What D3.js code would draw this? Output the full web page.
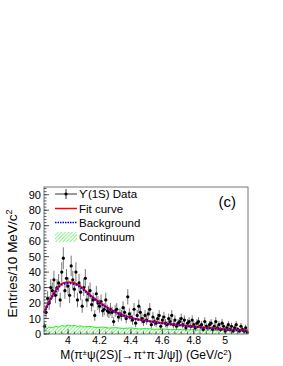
<!DOCTYPE html>
<html>
<head>
<meta charset="utf-8">
<script src="https://cdn.jsdelivr.net/npm/d3@7"></script>
<style>
  body { margin: 0; background: #fff; }
  text { font-family: "Liberation Sans", Arial, sans-serif; }
</style>
</head>
<body>
<div id="chart"></div>
<script>
// bin centres 3.85 .. 5.14 (10 MeV bins), entries per bin
var binStart = 3.85, binWidth = 0.01;
var counts = [
  5, 14, 23, 20, 30, 28, 35, 25, 30, 33,
  22, 40, 49, 28, 36, 31, 25, 44, 35, 29,
  40, 22, 33, 27, 18, 30, 36, 22, 26, 28,
  19, 22, 12, 26, 20, 18, 21, 15, 16, 22,
  15, 14, 16, 14, 8, 15, 16, 11, 13, 12,
  17, 14, 10, 24, 13, 11, 9, 16, 7, 12,
  18, 14, 10, 8, 12, 9, 13, 16, 6, 11,
  8, 7, 10, 12, 5, 9, 11, 7, 6, 10,
  8, 12, 6, 9, 5, 7, 8, 10, 6, 9,
  4, 7, 8, 5, 9, 6, 4, 7, 8, 5,
  6, 3, 8, 5, 4, 6, 7, 3, 5, 8,
  4, 6, 3, 7, 5, 2, 4, 6, 3, 5,
  2, 4, 6, 3, 2, 5, 3, 2, 4, 1
];

var fitX = [3.847, 3.88, 3.92, 3.96, 4.00, 4.04, 4.08, 4.12, 4.16, 4.20, 4.25, 4.30, 4.35, 4.40, 4.45, 4.50, 4.55, 4.60, 4.65, 4.70, 4.75, 4.80, 4.85, 4.90, 4.95, 5.00, 5.05, 5.10, 5.145];
var fitY = [14, 21, 28, 32.5, 33.5, 33, 30.5, 27, 23.5, 20.5, 17, 14.3, 12.2, 10.6, 9.4, 8.5, 7.8, 7.1, 6.5, 5.9, 5.3, 4.8, 4.3, 3.9, 3.5, 3.1, 2.8, 2.5, 2.2];
var bkgY = [13.5, 20.5, 27.3, 31.8, 32.8, 32.3, 30, 26.6, 23.2, 20.2, 16.8, 14.1, 12, 10.4, 9.2, 8.3, 7.6, 6.9, 6.3, 5.7, 5.1, 4.6, 4.1, 3.7, 3.3, 2.9, 2.6, 2.3, 2.0];

var contX = [3.847, 3.86, 3.88, 3.90, 3.92, 3.94, 3.96, 3.98, 4.00, 4.02, 4.04, 4.06, 4.08, 4.10, 4.14, 4.18, 4.22, 4.26, 4.30, 4.35, 4.40, 4.45, 4.50, 4.55, 4.60, 4.65, 4.70, 4.75, 4.80, 4.85, 4.90, 4.95, 5.00, 5.05, 5.10, 5.145];
var contY = [1.5, 3, 4.5, 4, 5, 4.5, 5.5, 5, 5.8, 5.2, 5.6, 4.8, 5.3, 4.6, 4.9, 4.2, 4.5, 3.8, 4.1, 3.6, 3.9, 3.3, 3.5, 3.0, 3.3, 2.8, 3.0, 2.6, 2.8, 2.4, 2.6, 2.2, 2.3, 1.9, 2.0, 1.6];

var xTicks = [4, 4.2, 4.4, 4.6, 4.8, 5];
var yTicks = [0, 10, 20, 30, 40, 50, 60, 70, 80, 90];

var W = 283, H = 366;
var fLeft = 44, fRight = 248, fTop = 187, fBottom = 334;

var svg = d3.select("#chart").append("svg")
    .attr("width", W)
    .attr("height", H);

var x = d3.scaleLinear().domain([3.847, 5.145]).range([fLeft, fRight]);
var y = d3.scaleLinear().domain([0, 95]).range([fBottom, fTop]);

// hatch pattern for continuum
var defs = svg.append("defs");
var pat = defs.append("pattern")
    .attr("id", "hatch")
    .attr("patternUnits", "userSpaceOnUse")
    .attr("width", 2.5).attr("height", 2.5)
    .attr("patternTransform", "rotate(45)");
pat.append("line")
    .attr("x1", 0).attr("y1", 0).attr("x2", 0).attr("y2", 2.5)
    .attr("stroke", "#33ee33").attr("stroke-width", 1.1);

var plot = svg.append("g");

// continuum
var contData = contX.map(function (d, i) { return [d, contY[i]]; });
plot.append("path")
    .datum(contData)
    .attr("fill", "url(#hatch)")
    .attr("d", d3.area().x(function (d) { return x(d[0]); }).y0(y(0)).y1(function (d) { return y(d[1]); }));
plot.append("path")
    .datum(contData)
    .attr("fill", "none")
    .attr("stroke", "#22ee22")
    .attr("stroke-width", 1)
    .attr("d", d3.line().x(function (d) { return x(d[0]); }).y(function (d) { return y(d[1]); }));

// data points with errors
var pts = counts.map(function (c, i) { return { x: binStart + i * binWidth, n: c }; });
var pg = plot.append("g");
pts.forEach(function (p) {
    var e = Math.sqrt(p.n);
    pg.append("line")
        .attr("x1", x(p.x)).attr("x2", x(p.x))
        .attr("y1", y(Math.max(0, p.n - e))).attr("y2", y(p.n + e))
        .attr("stroke", "#555").attr("stroke-width", 0.8);
    pg.append("line")
        .attr("x1", x(p.x - binWidth / 2)).attr("x2", x(p.x + binWidth / 2))
        .attr("y1", y(p.n)).attr("y2", y(p.n))
        .attr("stroke", "#555").attr("stroke-width", 0.8);
});
pg.selectAll("circle")
    .data(pts)
    .enter().append("circle")
    .attr("cx", function (d) { return x(d.x); })
    .attr("cy", function (d) { return y(d.n); })
    .attr("r", 1.6)
    .attr("fill", "#000");

// fit & background
var curve = d3.line()
    .x(function (d) { return x(d[0]); })
    .y(function (d) { return y(d[1]); })
    .curve(d3.curveMonotoneX);
plot.append("path")
    .datum(fitX.map(function (d, i) { return [d, fitY[i]]; }))
    .attr("fill", "none").attr("stroke", "#ff0000").attr("stroke-width", 2)
    .attr("d", curve);
plot.append("path")
    .datum(fitX.map(function (d, i) { return [d, bkgY[i]]; }))
    .attr("fill", "none").attr("stroke", "#0000ff").attr("stroke-width", 2)
    .attr("stroke-dasharray", "1.5,1.5")
    .attr("d", curve);

// frame
svg.append("rect")
    .attr("x", fLeft).attr("y", fTop)
    .attr("width", fRight - fLeft).attr("height", fBottom - fTop)
    .attr("fill", "none").attr("stroke", "#777").attr("stroke-width", 1);

// axes: ticks inside
var xMinor = d3.range(3.88, 5.145, 0.04);
var yMinor = d3.range(0, 95, 2);
var ax = svg.append("g").attr("stroke", "#333").attr("stroke-width", 0.8);
xMinor.forEach(function (t) {
    ax.append("line").attr("x1", x(t)).attr("x2", x(t)).attr("y1", fBottom).attr("y2", fBottom - 2.5);
});
xTicks.forEach(function (t) {
    ax.append("line").attr("x1", x(t)).attr("x2", x(t)).attr("y1", fBottom).attr("y2", fBottom - 5);
});
yMinor.forEach(function (t) {
    ax.append("line").attr("x1", fLeft).attr("x2", fLeft + 2.5).attr("y1", y(t)).attr("y2", y(t));
});
yTicks.forEach(function (t) {
    ax.append("line").attr("x1", fLeft).attr("x2", fLeft + 5).attr("y1", y(t)).attr("y2", y(t));
});

svg.append("g").selectAll("text")
    .data(xTicks).enter().append("text")
    .attr("x", function (d) { return x(d); })
    .attr("y", 344)
    .attr("text-anchor", "middle")
    .attr("font-size", 10.5)
    .text(function (d) { return d; });

svg.append("g").selectAll("text")
    .data(yTicks).enter().append("text")
    .attr("x", 41)
    .attr("y", function (d) { return y(d) + 4; })
    .attr("text-anchor", "end")
    .attr("font-size", 11)
    .text(function (d) { return d; });

// axis titles
var yt = svg.append("text")
    .attr("transform", "translate(17," + ((fTop + fBottom) / 2 + 3) + ") rotate(-90)")
    .attr("text-anchor", "middle")
    .attr("font-size", 13.5);
yt.append("tspan").text("Entries/10 MeV/c");
yt.append("tspan").attr("font-size", 9).attr("dy", -5).text("2");

var xt = svg.append("text")
    .attr("x", (fLeft + fRight) / 2)
    .attr("y", 358.5)
    .attr("text-anchor", "middle")
    .attr("font-size", 12);
xt.append("tspan").text("M(π");
xt.append("tspan").attr("font-size", 8).attr("dy", -3.5).text("±");
xt.append("tspan").attr("dy", 3.5).text("ψ(2S)[→π");
xt.append("tspan").attr("font-size", 8).attr("dy", -3.5).text("+");
xt.append("tspan").attr("dy", 3.5).text("π");
xt.append("tspan").attr("font-size", 8).attr("dy", -3.5).text("-");
xt.append("tspan").attr("dy", 3.5).text("J/ψ]) (GeV/c");
xt.append("tspan").attr("font-size", 8).attr("dy", -4).text("2");
xt.append("tspan").attr("dy", 4).text(")");

// (c)
svg.append("text")
    .attr("x", 236).attr("y", 207)
    .attr("text-anchor", "end")
    .attr("font-size", 15)
    .text("(c)");

// legend
var lg = svg.append("g");
var ly = [194, 208.5, 222.5, 237];
var lx0 = 55, lx1 = 77;
lg.append("line").attr("x1", lx0).attr("x2", lx1).attr("y1", ly[0]).attr("y2", ly[0]).attr("stroke", "#000").attr("stroke-width", 0.8);
lg.append("line").attr("x1", (lx0 + lx1) / 2).attr("x2", (lx0 + lx1) / 2).attr("y1", ly[0] - 5).attr("y2", ly[0] + 5).attr("stroke", "#000").attr("stroke-width", 0.8);
lg.append("circle").attr("cx", (lx0 + lx1) / 2).attr("cy", ly[0]).attr("r", 1.6).attr("fill", "#000");
lg.append("line").attr("x1", lx0).attr("x2", lx1).attr("y1", ly[1]).attr("y2", ly[1]).attr("stroke", "#ff0000").attr("stroke-width", 1.5);
lg.append("line").attr("x1", lx0).attr("x2", lx1).attr("y1", ly[2]).attr("y2", ly[2]).attr("stroke", "#0000ff").attr("stroke-width", 1.5).attr("stroke-dasharray", "1.5,1");
lg.append("rect").attr("x", lx0).attr("y", ly[3] - 5).attr("width", lx1 - lx0).attr("height", 10).attr("fill", "url(#hatch)");
var labels = ["ϒ(1S) Data", "Fit curve", "Background", "Continuum"];
lg.selectAll("text.lab").data(labels).enter().append("text")
    .attr("class", "lab")
    .attr("x", 79)
    .attr("y", function (d, i) { return ly[i] + 4; })
    .attr("font-size", 11.5)
    .text(function (d) { return d; });
</script>
</body>
</html>
